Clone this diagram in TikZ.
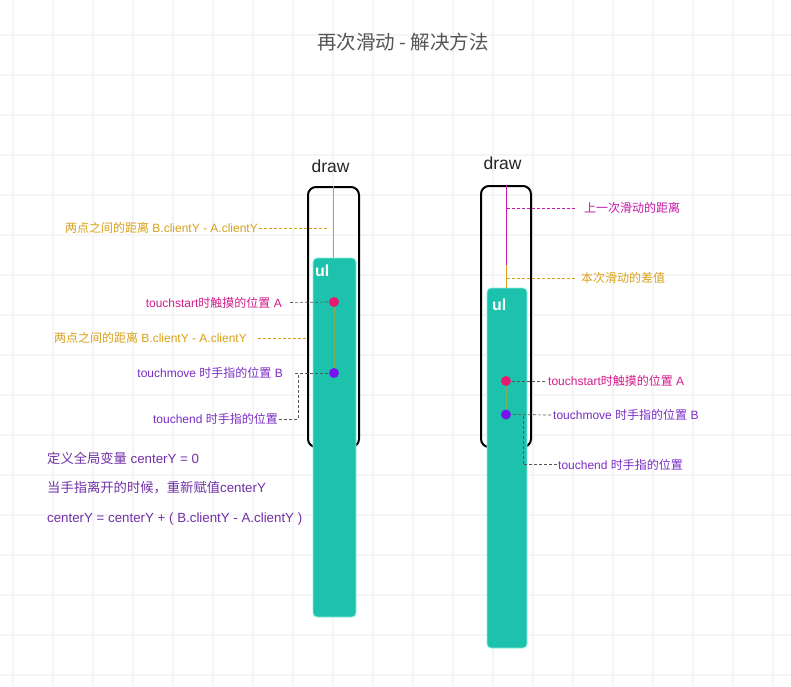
\documentclass[tikz,border=0pt]{standalone}
\usepackage{fontspec}
\setmainfont{Liberation Sans}
\newfontfamily\cjk{Noto Sans CJK SC}
\newcommand\zh[1]{{\cjk #1}}
\definecolor{gridc}{HTML}{F5F5F5}
\definecolor{teal1}{HTML}{1DC2AD}
\definecolor{teal2}{HTML}{8FEFE4}
\definecolor{orangec}{HTML}{D9A11A}
\definecolor{pinkc}{HTML}{D31C8C}
\definecolor{purplec}{HTML}{7A2EC4}
\definecolor{darkpurple}{HTML}{7030A8}
\definecolor{magentac}{HTML}{C418A8}
\definecolor{dotpink}{HTML}{E8196E}
\definecolor{dotpurple}{HTML}{7A12F0}
\definecolor{dashc}{HTML}{555555}
\definecolor{titlec}{HTML}{555555}
\tikzset{
  gridline/.style={draw=gridc, line width=1.3pt},
  drawbox/.style={draw=black, line width=2pt, rounded corners=8pt, inner sep=0pt},
  ulbox/.style={fill=teal1, draw=teal2, line width=0.8pt, rounded corners=4pt, inner sep=0pt},
  ultext/.style={text=white, font=\fontsize{16}{18}\selectfont\bfseries, inner sep=0pt},
  drawtext/.style={font=\fontsize{17.5}{20}\selectfont, text=black!85, inner sep=0pt},
  dot/.style={circle, minimum size=10pt, inner sep=0pt},
  lbl/.style={font=\fontsize{12}{14}\selectfont, inner sep=1pt},
  note/.style={font=\fontsize{13.3}{15}\selectfont, text=darkpurple, inner sep=0pt, anchor=west},
  dashline/.style={draw=dashc, line width=0.7pt, dash pattern=on 3pt off 2pt},
  odash/.style={draw=orangec, line width=0.7pt, dash pattern=on 3pt off 2pt},
  mdash/.style={draw=magentac, line width=0.7pt, dash pattern=on 3pt off 2pt},
  oline/.style={draw=orangec, line width=0.9pt},
  mline/.style={draw=magentac, line width=0.9pt},
  diffline/.style={draw=orangec, line width=1pt, opacity=0.55},
  titlestyle/.style={font=\fontsize{19.5}{22}\selectfont, text=titlec, inner sep=0pt}
}
\begin{document}
\begin{tikzpicture}[x=1pt,y=-1pt]
\useasboundingbox (0,0) rectangle (791,686);
\fill[white] (0,0) rectangle (791,686);
\foreach \i in {0,...,19} \draw[gridline] (13+40*\i,0) -- (13+40*\i,686);
\foreach \j in {0,...,16} \draw[gridline] (0,35+40*\j) -- (791,35+40*\j);

% title
\node[titlestyle] (title) at (403,42) {\zh{再次滑动 - 解决方法}};

% ---------------- left column ----------------
\node[drawtext] (drawLt) at (330.5,166) {draw};
\node[drawbox, minimum width=51pt, minimum height=260pt] (drawL) at (333.5,317) {};
\node[ulbox, minimum width=43pt, minimum height=359pt] (ulL) at (334.5,437.5) {};
\node[ultext, anchor=west] (ulLt) at (315,271) {ul};
\draw[oline] (drawL.north) -- (drawL.north |- ulL.north);
\node[dot, fill=dotpink] (AL) at (334,302) {};
\node[dot, fill=dotpurple] (BL) at (334,373) {};
\draw[diffline] (AL) -- (BL);

\node[lbl, text=orangec, anchor=east] (L1) at (259,228) {\zh{两点之间的距离} B.clientY - A.clientY};
\draw[odash, shorten >=6pt] (L1.east) -- (L1.east -| drawL.north);
\node[lbl, text=pinkc, anchor=east] (L2) at (283,302.5) {touchstart\zh{时触摸的位置} A};
\draw[dashline, shorten <=7pt] (L2.east) -- (AL);
\node[lbl, text=orangec, anchor=east] (L3) at (248,338) {\zh{两点之间的距离} B.clientY - A.clientY};
\draw[odash, shorten <=10pt] (L3.east) -- (L3.east -| drawL.west);
\node[lbl, text=purplec, anchor=east] (L4) at (284,373) {touchmove \zh{时手指的位置} B};
\draw[dashline, shorten <=11pt] (L4.east) -- (BL);
\coordinate (kL) at (298,373);
\node[lbl, text=purplec, anchor=east] (L5) at (279,419) {touchend \zh{时手指的位置}};
\draw[dashline] (L5.east) -- (L5.east -| kL) -- (kL);

% notes
\node[note] (n1) at (47,458) {\zh{定义全局变量} centerY = 0};
\node[note] (n2) at (47,488) {\zh{当手指离开的时候，重新赋值}centerY};
\node[note] (n3) at (47,519) {centerY = centerY + ( B.clientY - A.clientY )};

% ---------------- right column ----------------
\node[drawtext] (drawRt) at (502.5,163.5) {draw};
\node[drawbox, minimum width=50pt, minimum height=261pt] (drawR) at (506,316.5) {};
\node[ulbox, minimum width=40pt, minimum height=360pt] (ulR) at (507,468) {};
\node[ultext, anchor=west] (ulRt) at (492,305) {ul};
\coordinate (mR) at (506,265);
\draw[mline] (drawR.north) -- (mR);
\draw[oline] (mR) -- (mR |- ulR.north);
\node[dot, fill=dotpink] (AR) at (506,381) {};
\node[dot, fill=dotpurple] (BR) at (506,414.5) {};
\draw[diffline] (AR) -- (BR);

\node[lbl, text=magentac, anchor=west] (R1) at (583,208) {\zh{上一次滑动的距离}};
\draw[mdash, shorten <=8pt] (R1.west) -- (R1.west -| mR);
\node[lbl, text=orangec, anchor=west] (R2) at (580,278) {\zh{本次滑动的差值}};
\draw[odash, shorten <=5pt] (R2.west) -- (R2.west -| mR);
\node[lbl, text=pinkc, anchor=west] (R3) at (547,381) {touchstart\zh{时触摸的位置} A};
\draw[dashline, shorten <=2pt] (R3.west) -- (AR);
\node[lbl, text=purplec, anchor=west] (R4) at (552,415) {touchmove \zh{时手指的位置} B};
\draw[dashline, shorten <=1pt] (R4.west) -- (BR);
\coordinate (kR) at (523,414.5);
\node[lbl, text=purplec, anchor=west] (R5) at (557,464.5) {touchend \zh{时手指的位置}};
\draw[dashline] (R5.west) -- (R5.west -| kR) -- (kR);
\end{tikzpicture}
\end{document}
